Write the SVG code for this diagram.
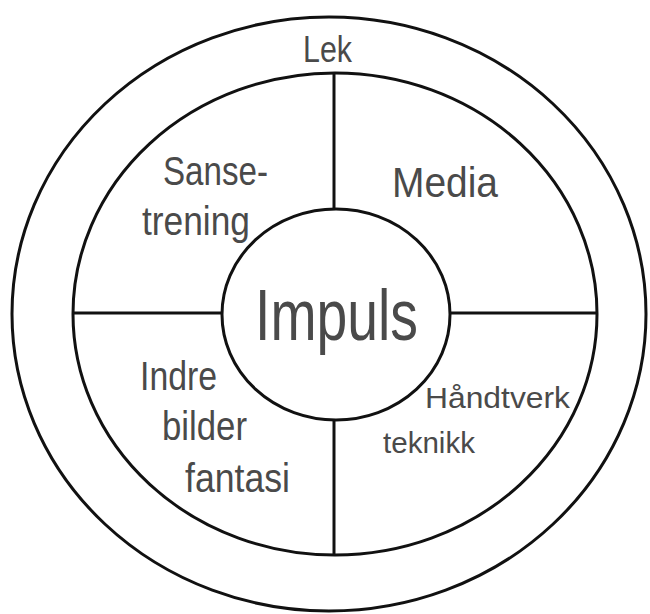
<svg xmlns="http://www.w3.org/2000/svg" width="650" height="614" viewBox="0 0 650 614">
<style>
.ring{fill:none;stroke:#111;stroke-width:3}
.line{stroke:#111;stroke-width:3;fill:none}
.t{font-family:"Liberation Sans",Arial,sans-serif;fill:#4a4a4a}
</style>
<rect width="650" height="614" fill="#fff"/>
<g id="outer">
<ellipse class="ring" cx="329" cy="314" rx="317" ry="297"/>
<text class="t" x="303" y="62" font-size="36" textLength="49" lengthAdjust="spacingAndGlyphs">Lek</text>
</g>
<g id="inner">
<ellipse class="ring" cx="335" cy="314" rx="262" ry="241"/>
</g>
<g id="connectors">
<line class="line" x1="334" y1="73" x2="334" y2="209"/>
<line class="line" x1="334" y1="420" x2="334" y2="555"/>
<line class="line" x1="73" y1="313" x2="222" y2="313"/>
<line class="line" x1="450" y1="313" x2="597" y2="313"/>
</g>
<g id="sansetrening">
<text class="t" x="163" y="185" font-size="40" textLength="105" lengthAdjust="spacingAndGlyphs">Sanse-</text>
<text class="t" x="142" y="235" font-size="40" textLength="108" lengthAdjust="spacingAndGlyphs">trening</text>
</g>
<g id="media">
<text class="t" x="392" y="197" font-size="42" textLength="106" lengthAdjust="spacingAndGlyphs">Media</text>
</g>
<g id="indre">
<text class="t" x="140" y="390" font-size="40" textLength="77" lengthAdjust="spacingAndGlyphs">Indre</text>
<text class="t" x="162" y="440" font-size="40" textLength="85" lengthAdjust="spacingAndGlyphs">bilder</text>
<text class="t" x="185" y="492" font-size="40" textLength="105" lengthAdjust="spacingAndGlyphs">fantasi</text>
</g>
<g id="handtverk">
<text class="t" x="425" y="408" font-size="30" textLength="145" lengthAdjust="spacingAndGlyphs">Håndtverk</text>
<text class="t" x="383" y="453" font-size="30" textLength="92" lengthAdjust="spacingAndGlyphs">teknikk</text>
</g>
<g id="impuls">
<ellipse class="ring" cx="336" cy="314.5" rx="114" ry="105.5"/>
<text class="t" x="255" y="340" font-size="72" textLength="163" lengthAdjust="spacingAndGlyphs" fill="#333">Impuls</text>
</g>
</svg>
